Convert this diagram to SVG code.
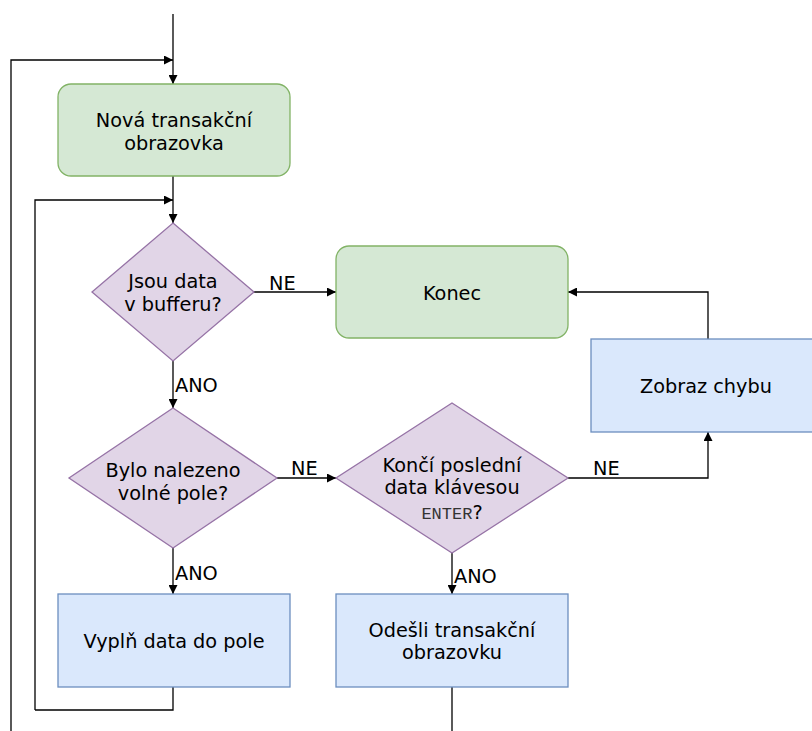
<svg xmlns="http://www.w3.org/2000/svg" width="812" height="731" viewBox="0 0 812 731">
  <style>
    .lbl { text-anchor: middle; }
    .edge { fill: none; stroke: #000; stroke-width: 1.3; }
    .start { fill: #d5e8d4; stroke: #82b366; stroke-width: 1.3; }
    .proc { fill: #dae8fc; stroke: #6c8ebf; stroke-width: 1.3; }
    .dec { fill: #e1d5e7; stroke: #9673a6; stroke-width: 1.3; }
  </style>
  <defs>
    <marker id="arrow" viewBox="0 0 10 10" refX="10" refY="5" markerWidth="9" markerHeight="9" markerUnits="userSpaceOnUse" orient="auto">
      <path d="M0,0 L10,5 L0,10 Z" fill="#000"/>
    </marker>
  </defs>
  <rect width="812" height="731" fill="#fff"/>

  <g font-family="DejaVu Sans, sans-serif" font-size="19.3" fill="#000">
  <g id="connectors">
    <path class="edge" d="M173,14 V84" marker-end="url(#arrow)"/>
    <path class="edge" d="M11,731 V60 H173" marker-end="url(#arrow)"/>
    <path class="edge" d="M173,176 V223" marker-end="url(#arrow)"/>
    <path class="edge" d="M35,710 V200 H173" marker-end="url(#arrow)"/>
    <path class="edge" d="M254,292 H336" marker-end="url(#arrow)"/>
    <path class="edge" d="M173,361 V408" marker-end="url(#arrow)"/>
    <path class="edge" d="M277,478 H336" marker-end="url(#arrow)"/>
    <path class="edge" d="M568,478 H708 V432" marker-end="url(#arrow)"/>
    <path class="edge" d="M708,339 V292 H568" marker-end="url(#arrow)"/>
    <path class="edge" d="M173,548 V594" marker-end="url(#arrow)"/>
    <path class="edge" d="M452,553 V594" marker-end="url(#arrow)"/>
    <path class="edge" d="M173,687 V710 H35"/>
    <path class="edge" d="M452,687 V731"/>
    <text x="269" y="290">NE</text>
    <text x="175" y="392">ANO</text>
    <text x="291" y="475">NE</text>
    <text x="593" y="475">NE</text>
    <text x="175" y="580">ANO</text>
    <text x="454" y="583">ANO</text>
  </g>

  <g id="novaTransakcni">
    <rect class="start" x="58" y="84" width="232" height="92" rx="13"/>
    <text class="lbl" x="174" y="127">Nová transakční</text>
    <text class="lbl" x="174" y="150">obrazovka</text>
  </g>

  <g id="jsouData">
    <path class="dec" d="M173,223 L254,292 L173,361 L92,292 Z"/>
    <text class="lbl" x="173" y="288">Jsou data</text>
    <text class="lbl" x="173" y="311">v bufferu?</text>
  </g>

  <g id="konec">
    <rect class="start" x="336" y="246" width="232" height="92" rx="13"/>
    <text class="lbl" x="452" y="300">Konec</text>
  </g>

  <g id="zobrazChybu">
    <rect class="proc" x="591" y="339" width="233" height="93"/>
    <text class="lbl" x="706" y="393">Zobraz chybu</text>
  </g>

  <g id="nalezenoPole">
    <path class="dec" d="M173,408 L277,478 L173,548 L69,478 Z"/>
    <text class="lbl" x="173" y="477">Bylo nalezeno</text>
    <text class="lbl" x="173" y="500">volné pole?</text>
  </g>

  <g id="konciEnter">
    <path class="dec" d="M452,403 L568,478 L452,553 L336,478 Z"/>
    <text class="lbl" x="452" y="472">Končí poslední</text>
    <text class="lbl" x="452" y="494">data klávesou</text>
    <text class="lbl" x="452" y="519"><tspan font-family="Liberation Mono, monospace" font-size="17" fill="#333">ENTER</tspan>?</text>
  </g>

  <g id="vyplnData">
    <rect class="proc" x="58" y="594" width="232" height="93"/>
    <text class="lbl" x="174" y="648">Vyplň data do pole</text>
  </g>

  <g id="odesliObrazovku">
    <rect class="proc" x="336" y="594" width="232" height="93"/>
    <text class="lbl" x="452" y="637">Odešli transakční</text>
    <text class="lbl" x="452" y="659">obrazovku</text>
  </g>
  </g>
</svg>
